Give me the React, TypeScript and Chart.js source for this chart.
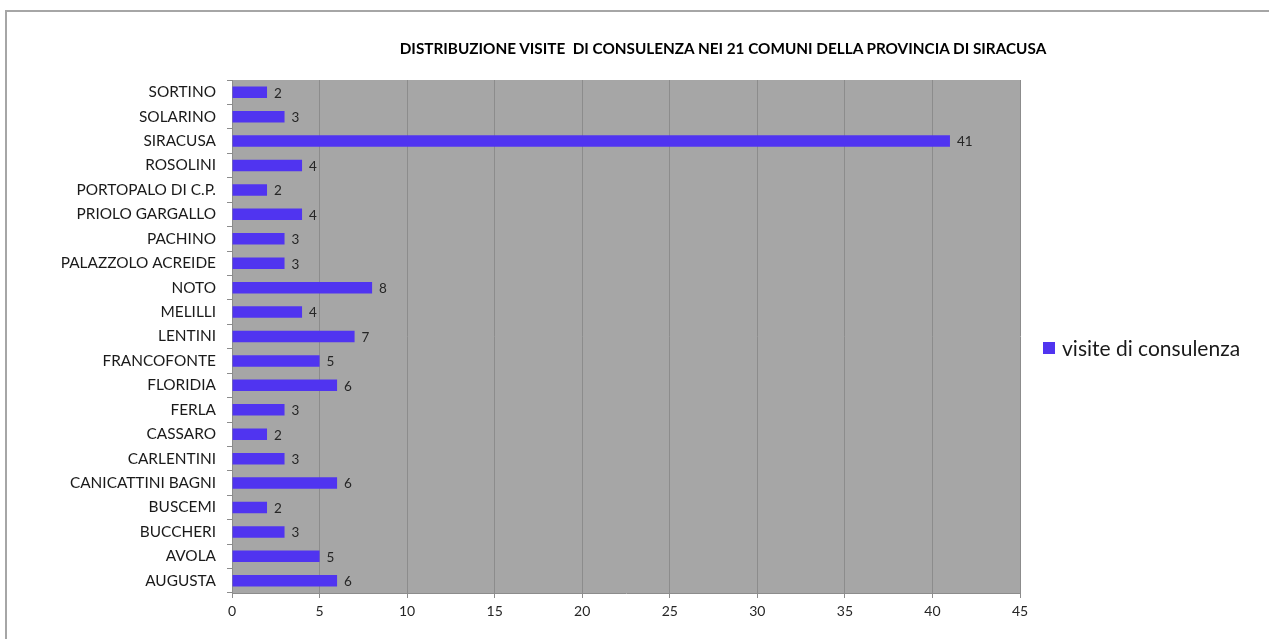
import React, { useEffect, useRef } from "react";
import { Chart, registerables } from "chart.js";

Chart.register(...registerables);

const comuni = [
  "SORTINO", "SOLARINO", "SIRACUSA", "ROSOLINI", "PORTOPALO DI C.P.",
  "PRIOLO GARGALLO", "PACHINO", "PALAZZOLO ACREIDE", "NOTO", "MELILLI",
  "LENTINI", "FRANCOFONTE", "FLORIDIA", "FERLA", "CASSARO", "CARLENTINI",
  "CANICATTINI BAGNI", "BUSCEMI", "BUCCHERI", "AVOLA", "AUGUSTA",
];
const visite = [2, 3, 41, 4, 2, 4, 3, 3, 8, 4, 7, 5, 6, 3, 2, 3, 6, 2, 3, 5, 6];
const seriesName = "visite di consulenza";
const titleText = "DISTRIBUZIONE VISITE  DI CONSULENZA NEI 21 COMUNI DELLA PROVINCIA DI SIRACUSA";
const xMax = 45;
const xStep = 5;

const FONT = "Lato, 'Open Sans', sans-serif";
const BAR = "#5034F0";

export default function App() {
  const ref = useRef<HTMLCanvasElement | null>(null);

  useEffect(() => {
    document.body.style.margin = "0";
    if (!ref.current) return;
    const bgPlugin = {
      id: "plotBg",
      beforeDraw(chart: any) {
        const { ctx, chartArea } = chart;
        ctx.save();
        ctx.fillStyle = "#a6a6a6";
        ctx.fillRect(chartArea.left, chartArea.top, chartArea.right - chartArea.left, chartArea.bottom - chartArea.top);
        ctx.restore();
      },
    };
    const labelPlugin = {
      id: "valueLabels",
      afterDatasetsDraw(chart: any) {
        const { ctx } = chart;
        const meta = chart.getDatasetMeta(0);
        ctx.save();
        ctx.font = `13.5px ${FONT}`;
        ctx.fillStyle = "#262626";
        ctx.textAlign = "left";
        ctx.textBaseline = "middle";
        meta.data.forEach((bar: any, i: number) => {
          ctx.fillText(String(visite[i]), bar.x + 7, bar.y + 1);
        });
        ctx.restore();
      },
    };
    const chart = new Chart(ref.current, {
      type: "bar",
      data: {
        labels: comuni,
        datasets: [
          {
            label: seriesName,
            data: visite,
            backgroundColor: BAR,
            borderWidth: 0,
            barPercentage: 0.47,
            categoryPercentage: 1,
          },
        ],
      },
      options: {
        indexAxis: "y",
        animation: false,
        responsive: false,
        maintainAspectRatio: false,
        layout: { padding: { left: 0, top: 80, right: 249, bottom: 0 } },
        plugins: {
          legend: { display: false },
          title: { display: false },
          tooltip: { enabled: false },
        },
        scales: {
          x: {
            min: 0,
            max: xMax,
            ticks: {
              stepSize: xStep,
              color: "#262626",
              font: { family: FONT, size: 14 },
              padding: 5,
            },
            grid: {
              color: "#8c8c8c",
              lineWidth: 1,
              tickLength: 5,
              drawTicks: true,
            },
            border: { display: true, color: "#8c8c8c", width: 1 },
            afterFit(scale: any) {
              scale.height = 46;
            },
          },
          y: {
            ticks: {
              color: "#1a1a1a",
              font: { family: FONT, size: 15.4 },
              padding: 11,
              autoSkip: false,
            },
            grid: {
              drawOnChartArea: false,
              drawTicks: true,
              tickLength: 5,
              color: "#8c8c8c",
              offset: true,
            },
            border: { display: true, color: "#8c8c8c", width: 1 },
            afterFit(scale: any) {
              scale.width = 232;
            },
          },
        },
      },
      plugins: [bgPlugin, labelPlugin],
    });
    return () => chart.destroy();
  }, []);

  return (
    <div style={{ position: "relative", width: 1269, height: 639, background: "#fff", overflow: "hidden" }}>
      <div
        style={{
          position: "absolute",
          left: 5,
          top: 10,
          width: 1264,
          height: 629,
          borderTop: "2px solid #a6a6a6",
          borderLeft: "2px solid #a6a6a6",
          boxSizing: "border-box",
        }}
      />
      <canvas ref={ref} width={1269} height={639} style={{ position: "absolute", left: 0, top: 0 }} />
      <div
        style={{
          position: "absolute",
          left: 373,
          width: 700,
          top: 39,
          textAlign: "center",
          fontFamily: FONT,
          fontWeight: "bold",
          fontSize: 15.3,
          color: "#000",
          whiteSpace: "pre",
        }}
      >
        {titleText}
      </div>
      <div
        style={{
          position: "absolute",
          left: 1043,
          top: 335,
          display: "flex",
          alignItems: "center",
          fontFamily: FONT,
          fontSize: 21,
          color: "#1a1a1a",
        }}
      >
        <span style={{ display: "inline-block", width: 12, height: 12, background: BAR, marginRight: 7 }} />
        <span>{seriesName}</span>
      </div>
    </div>
  );
}
